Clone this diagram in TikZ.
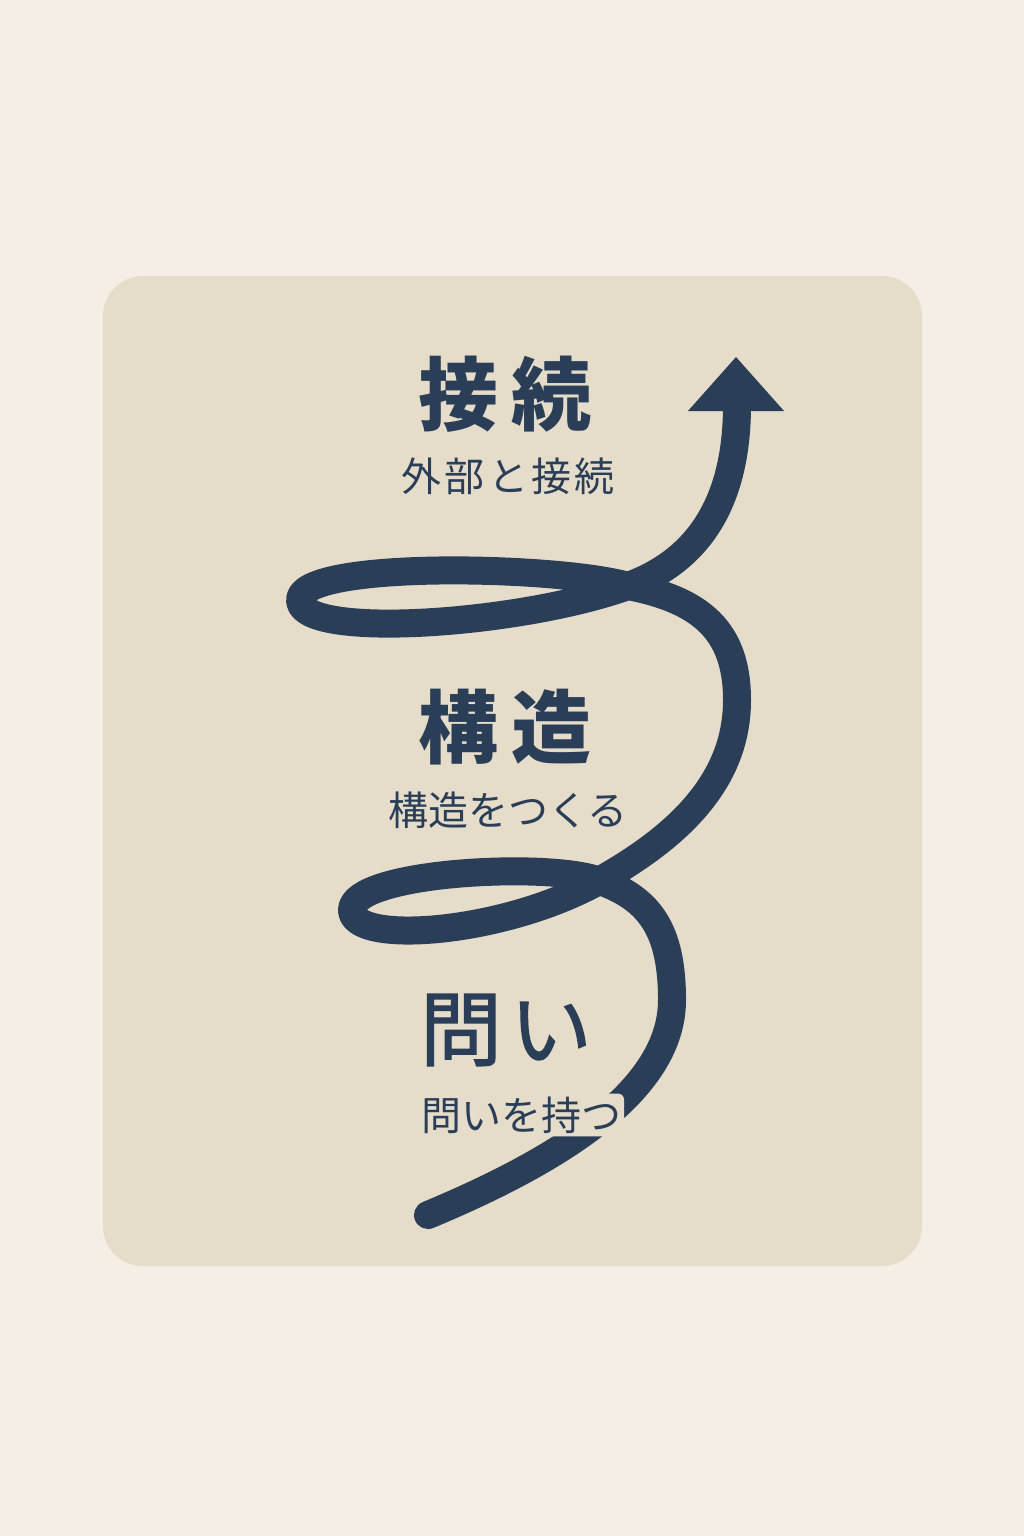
\documentclass[tikz,border=0pt]{standalone}
\usepackage{fontspec}
\newfontfamily\cjk{Noto Sans CJK JP}
\newfontfamily\cjkmed{Noto Sans CJK JP}[FakeBold=1.5]
\newfontfamily\cjkwide{Noto Sans CJK JP}[LetterSpace=8]
\definecolor{bgc}{HTML}{F4EEE5}
\definecolor{panelc}{HTML}{E6DCCA}
\definecolor{inkc}{HTML}{2A3F57}
\tikzset{
  spiral/.style={draw=inkc, line width=28pt, line cap=round, line join=round},
  titletxt/.style={text=inkc, font=\cjk\bfseries\fontsize{80}{90}\selectfont, inner sep=0pt},
  qtxt/.style={text=inkc, font=\cjkmed\fontsize{82}{90}\selectfont, inner sep=0pt},
  subtxt/.style={text=inkc, font=\cjk\fontsize{40}{46}\selectfont, inner sep=0pt}
}
\begin{document}
\begin{tikzpicture}[x=1pt,y=-1pt]
\useasboundingbox (0,0) rectangle (1024,1536);
\fill[bgc] (0,0) rectangle (1024,1536);
\fill[panelc, rounded corners=40pt] (103,276) rectangle (922,1266);
% spiral
\draw[spiral] (428,1215)
  .. controls (560,1160) and (672,1090) .. (672,1000)
  .. controls (672,930) and (650,898) .. (597,880)
  .. controls (545,862) and (352,872) .. (352,910)
  .. controls (352,945) and (500,935) .. (597,882)
  .. controls (680,836) and (737,780) .. (737,700)
  .. controls (737,630) and (700,600) .. (628,586)
  .. controls (560,566) and (300,560) .. (300,600)
  .. controls (300,640) and (520,625) .. (628,586)
  .. controls (700,560) and (737,500) .. (737,405);
\fill[inkc] (688,411) -- (784,411) -- (736,357) -- cycle;
% titles
\node[titletxt] (t1) at (505,394) {接\hspace{13pt}続};
\node[subtxt, font=\cjkwide\fontsize{40}{46}\selectfont] (s1) at (508,476) {外部と接続};
\node[titletxt] (t2) at (505,727) {構\hspace{13pt}造};
\node[subtxt] (s2) at (508,810) {構造をつくる};
\node[qtxt] (t3) at (506,1030) {問\hspace{8pt}い};
\node[subtxt, fill=panelc, inner sep=3pt, rounded corners=6pt] (s3) at (521,1115) {問いを持つ};
\end{tikzpicture}
\end{document}
